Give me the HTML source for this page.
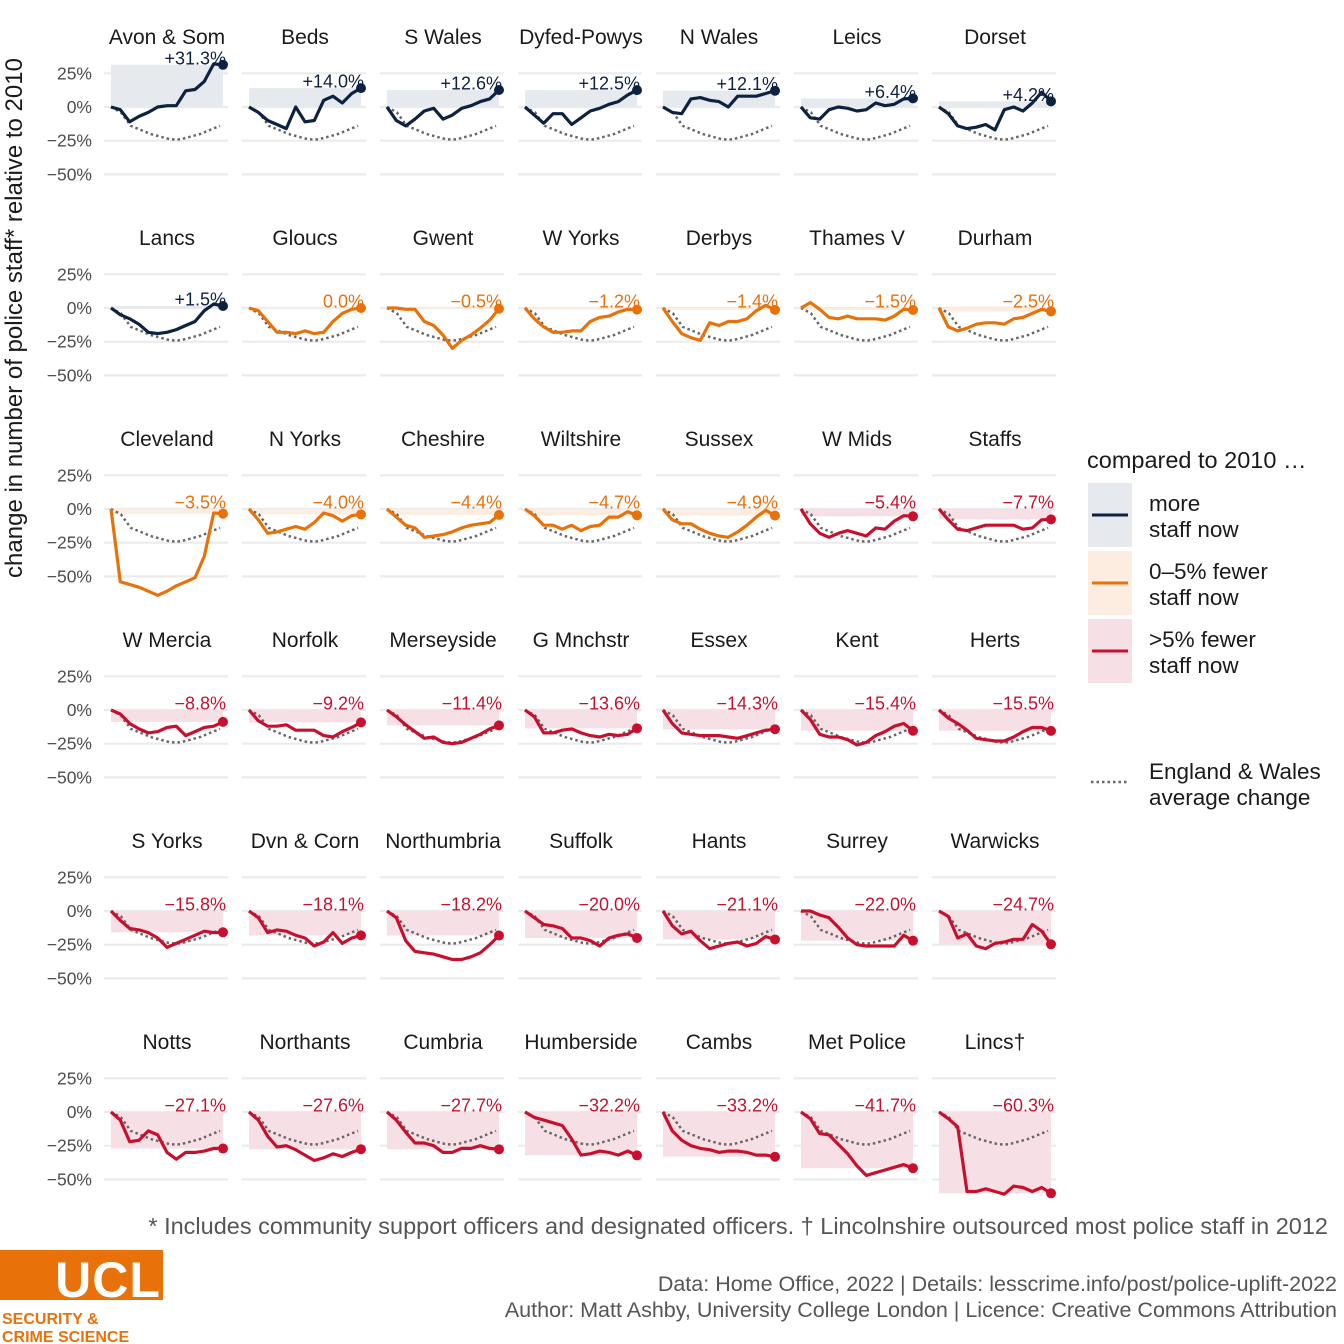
<!DOCTYPE html>
<html><head><meta charset="utf-8"><style>
body{margin:0;background:#fff;}
svg{display:block;font-family:"Liberation Sans",Arial,sans-serif;}
</style></head><body>
<svg id="chart" width="1344" height="1344" viewBox="0 0 1344 1344">
<text x="22" y="318" transform="rotate(-90 22 318)" text-anchor="middle" font-size="24" fill="#1a1a1a">change in number of police staff* relative to 2010</text>
<g id="panels"></g>
<g>
<text x="1087" y="468" font-size="23.5" fill="#1a1a1a">compared to 2010 …</text>
<rect x="1088" y="483" width="44" height="64" fill="#e6e9ee"/>
<line x1="1092" y1="515" x2="1128" y2="515" stroke="#0d2240" stroke-width="3"/>
<text x="1149" y="511" font-size="22.5" fill="#1a1a1a">more</text>
<text x="1149" y="537" font-size="22.5" fill="#1a1a1a">staff now</text>
<rect x="1088" y="551" width="44" height="64" fill="#fcede0"/>
<line x1="1092" y1="583" x2="1128" y2="583" stroke="#e8710a" stroke-width="3"/>
<text x="1149" y="579" font-size="22.5" fill="#1a1a1a">0–5% fewer</text>
<text x="1149" y="605" font-size="22.5" fill="#1a1a1a">staff now</text>
<rect x="1088" y="619" width="44" height="64" fill="#f7e0e5"/>
<line x1="1092" y1="651" x2="1128" y2="651" stroke="#c8102e" stroke-width="3"/>
<text x="1149" y="647" font-size="22.5" fill="#1a1a1a">&gt;5% fewer</text>
<text x="1149" y="673" font-size="22.5" fill="#1a1a1a">staff now</text>
<line x1="1091" y1="782" x2="1129" y2="782" stroke="#666" stroke-width="2.5" stroke-dasharray="2.5 3"/>
<text x="1149" y="779" font-size="22.5" fill="#1a1a1a">England &amp; Wales</text>
<text x="1149" y="805" font-size="22.5" fill="#1a1a1a">average change</text>
</g>
<text x="1328" y="1234" text-anchor="end" font-size="23.5" fill="#555">* Includes community support officers and designated officers. † Lincolnshire outsourced most police staff in 2012</text>
<text x="1337" y="1291" text-anchor="end" font-size="21.5" fill="#555">Data: Home Office, 2022 |  Details: lesscrime.info/post/police-uplift-2022</text>
<text x="1337" y="1317" text-anchor="end" font-size="21.5" fill="#555">Author: Matt Ashby, University College London |  Licence: Creative Commons Attribution</text>
<g>
<rect x="0" y="1250" width="163" height="50" fill="#e8710a"/>
<text x="108" y="1297" text-anchor="middle" font-size="50" font-weight="bold" fill="#fff" letter-spacing="1">UCL</text>
<text x="2" y="1324" font-size="16" font-weight="bold" fill="#e8710a">SECURITY &amp;</text>
<text x="2" y="1342" font-size="16" font-weight="bold" fill="#e8710a">CRIME SCIENCE</text>
</g>
</svg>
<script>
const forces = ["Avon & Som","Beds","S Wales","Dyfed-Powys","N Wales","Leics","Dorset",
"Lancs","Gloucs","Gwent","W Yorks","Derbys","Thames V","Durham",
"Cleveland","N Yorks","Cheshire","Wiltshire","Sussex","W Mids","Staffs",
"W Mercia","Norfolk","Merseyside","G Mnchstr","Essex","Kent","Herts",
"S Yorks","Dvn & Corn","Northumbria","Suffolk","Hants","Surrey","Warwicks",
"Notts","Northants","Cumbria","Humberside","Cambs","Met Police","Lincs†"];
const series = [
[0,-2,-11,-7,-4,0,1,1,12,13,19,32,31.3],
[0,-4,-10,-13,-16,0,-11,-10,5,8,3,10,14.0],
[0,-10,-14,-9,-3,-1,-9,-6,-1,1,4,6,12.6],
[0,-6,-12,-5,-5,-13,-8,-3,-1,2,4,9,12.5],
[0,-4,-5,6,7,5,4,0,8,8,8,10,12.1],
[0,-8,-9,-2,0,-1,-3,-2,3,1,2,6,6.4],
[0,-5,-14,-16,-15,-13,-17,-2,0,-3,3,11,4.2],
[0,-5,-8,-12,-18,-19,-18,-16,-13,-10,-2,3,1.5],
[0,-2,-10,-18,-18,-19,-17,-19,-18,-10,-4,-1,0.0],
[0,0,-1,-1,-10,-13,-20,-30,-24,-20,-15,-9,-0.5],
[0,-8,-14,-18,-18,-17,-17,-10,-7,-6,-3,-1,-1.2],
[0,-10,-19,-22,-24,-11,-13,-10,-10,-8,-2,2,-1.4],
[0,4,-1,-7,-8,-6,-8,-8,-8,-9,-6,-1,-1.5],
[0,-14,-17,-15,-12,-11,-11,-12,-8,-7,-4,-1,-2.5],
[0,-54,-56,-58,-61,-64,-61,-57,-54,-51,-35,-3,-3.5],
[0,-8,-18,-17,-15,-13,-15,-10,-3,-5,-9,-5,-4.0],
[0,-6,-12,-14,-21,-20,-19,-17,-14,-12,-11,-10,-4.4],
[0,-5,-12,-12,-15,-12,-16,-13,-12,-6,-6,-2,-4.7],
[0,-8,-11,-11,-15,-18,-20,-21,-17,-12,-6,-1,-4.9],
[0,-11,-18,-21,-18,-16,-18,-20,-14,-15,-9,-5,-5.4],
[0,-8,-15,-16,-14,-12,-12,-12,-12,-15,-14,-8,-7.7],
[0,-3,-10,-14,-17,-16,-13,-12,-19,-16,-13,-12,-8.8],
[0,-8,-12,-12,-11,-15,-15,-15,-19,-20,-16,-13,-9.2],
[0,-5,-11,-16,-21,-20,-24,-25,-24,-21,-18,-14,-11.4],
[0,-5,-17,-17,-15,-14,-17,-19,-20,-18,-19,-18,-13.6],
[0,-10,-17,-18,-19,-19,-19,-20,-21,-19,-17,-15,-14.3],
[0,-7,-18,-20,-20,-22,-26,-24,-19,-16,-12,-10,-15.4],
[0,-6,-10,-15,-21,-22,-23,-23,-20,-16,-13,-13,-15.5],
[0,-7,-13,-14,-16,-20,-27,-24,-21,-18,-15,-16,-15.8],
[0,-5,-16,-14,-15,-18,-20,-26,-23,-16,-24,-20,-18.1],
[0,-5,-22,-30,-31,-32,-34,-36,-36,-34,-31,-25,-18.2],
[0,-5,-10,-11,-13,-20,-20,-22,-26,-20,-18,-17,-20.0],
[0,-11,-17,-15,-22,-28,-26,-24,-23,-26,-24,-19,-21.1],
[0,0,-3,-5,-12,-20,-25,-26,-26,-26,-26,-18,-22.0],
[0,-4,-20,-17,-26,-28,-24,-23,-21,-21,-10,-15,-24.7],
[0,-6,-22,-21,-14,-17,-30,-35,-30,-30,-29,-27,-27.1],
[0,-6,-18,-26,-25,-28,-32,-36,-34,-31,-33,-30,-27.6],
[0,-6,-15,-23,-23,-25,-30,-30,-27,-27,-25,-27,-27.7],
[0,-4,-6,-8,-10,-20,-32,-31,-29,-30,-32,-29,-32.2],
[0,-14,-21,-25,-27,-28,-30,-29,-29,-30,-32,-32,-33.2],
[0,-5,-16,-17,-24,-31,-40,-47,-45,-43,-41,-39,-41.7],
[0,-5,-11,-59,-59,-57,-59,-61,-55,-56,-59,-56,-60.3]
];
const average = [0,-4,-14,-17,-20,-22,-24,-24,-22,-20,-17,-14];
const yTicks = [25,0,-25,-50];
const yTickLabels = ["25%","0%","−25%","−50%"];

const NS="http://www.w3.org/2000/svg";
const g=document.getElementById('panels');
function mk(tag,attrs,parent){const e=document.createElementNS(NS,tag);for(const k in attrs)e.setAttribute(k,attrs[k]);(parent||g).appendChild(e);return e;}
function colX(c){return 111+c*138;}
function rowZero(r){return 107+r*201;}
function xScale(c,i,n){return colX(c)+i*(112/(n-1));}
function avgX(c,i,n){return colX(c)+i*(109/(n-1));}
function yScale(r,v){return rowZero(r)-v*1.348;}
function colorFor(v){return v>0?['#0d2240','#e6e9ee']:(v>=-5?['#e8710a','#fcede0']:['#c8102e','#f7e0e5']);}
function fmt(v){const s=Math.abs(v).toFixed(1)+'%';return v>0?'+'+s:(v<0?'−'+s:s);}

forces.forEach((name,k)=>{
  const c=k%7,r=Math.floor(k/7);
  const vals=series[k];const n=vals.length;const last=vals[n-1];
  const [col,fill]=colorFor(last);
  const pg=mk('g',{});
  
  
  yTicks.forEach(t=>{const y=yScale(r,t);mk('line',{x1:colX(c)-7,x2:colX(c)+117,y1:y,y2:y,stroke:'#ebebeb','stroke-width':2.2},pg);});
  if(c===0){yTicks.forEach((t,i)=>{const tl=mk('text',{x:92,y:yScale(r,t)+6,'text-anchor':'end','font-size':17.5,fill:'#4d4d4d'},pg);tl.textContent=yTickLabels[i];
    
    });}
  const t=mk('text',{x:colX(c)+56,y:rowZero(r)-63,'text-anchor':'middle','font-size':21,fill:'#1a1a1a'},pg);t.textContent=name;
  
  
  const y0=rowZero(r),yl=yScale(r,last);
  const area=mk('rect',{x:colX(c),y:Math.min(y0,yl),width:112,height:Math.max(Math.abs(yl-y0),0.5),fill:fill},pg);
  
  
  const ap=average.map((v,i)=>avgX(c,i,average.length).toFixed(1)+','+yScale(r,v).toFixed(1)).join(' ');
  const al=mk('polyline',{points:ap,fill:'none',stroke:'#666','stroke-width':2.5,'stroke-dasharray':'2.5 3'},pg);
  
  
  const pts=vals.map((v,i)=>xScale(c,i,n).toFixed(1)+','+yScale(r,v).toFixed(1)).join(' ');
  const ln=mk('polyline',{points:pts,fill:'none',stroke:col,'stroke-width':3.2,'stroke-linejoin':'round'},pg);
  
  
  const dot=mk('circle',{cx:xScale(c,n-1,n),cy:yl,r:5,fill:col},pg);
  
  
  const lab=mk('text',{x:colX(c)+115,y:Math.min(y0,yl)-0.5,'text-anchor':'end','font-size':18,fill:col},pg);
  lab.textContent=fmt(last);
  
  
});
</script>
</body></html>
